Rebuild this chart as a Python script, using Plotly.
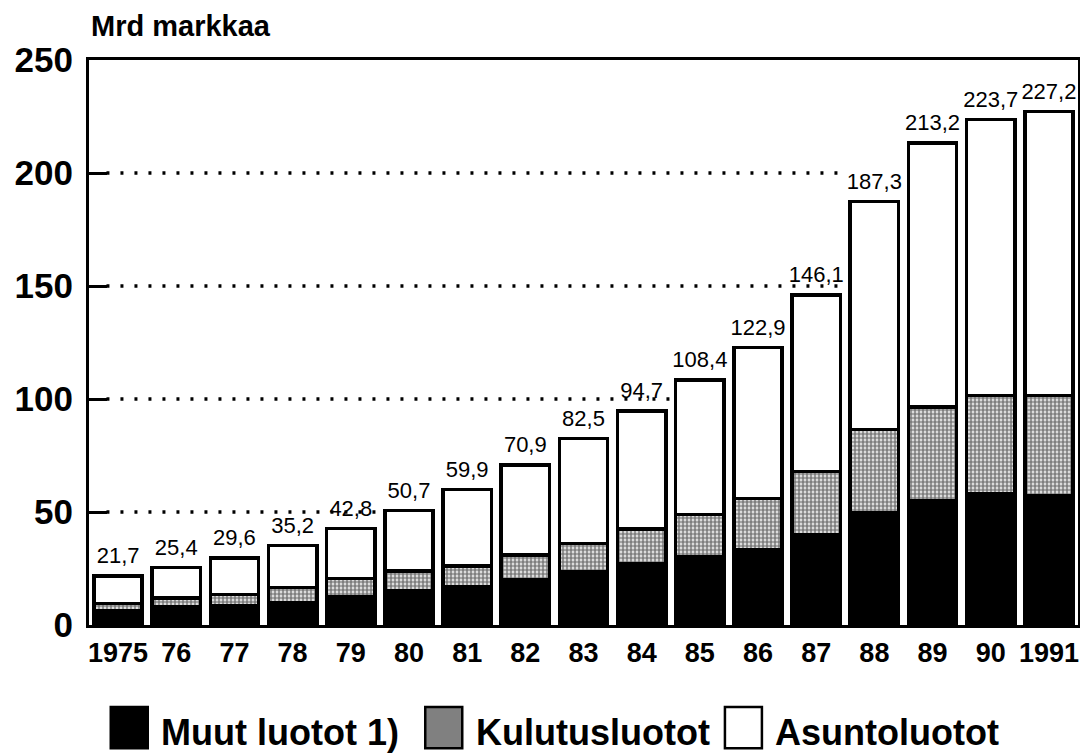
import plotly.graph_objects as go

# Data (Mrd markkaa)
years = ["1975", "76", "77", "78", "79", "80", "81", "82", "83",
         "84", "85", "86", "87", "88", "89", "90", "1991"]
muut = [6.5, 8.0, 8.5, 10.0, 12.5, 15.0, 17.0, 20.0, 23.5,
        27.0, 30.0, 33.5, 40.0, 49.5, 55.0, 58.0, 57.0]
kulutus = [3.0, 4.0, 5.0, 6.5, 8.0, 9.0, 9.0, 11.0, 12.5,
           15.5, 19.0, 22.5, 28.0, 37.0, 41.5, 43.5, 44.5]
asunto = [12.2, 13.4, 16.1, 18.7, 22.3, 26.7, 33.9, 39.9, 46.5,
          52.2, 59.4, 66.9, 78.1, 100.8, 116.7, 122.2, 125.7]
totals = [21.7, 25.4, 29.6, 35.2, 42.8, 50.7, 59.9, 70.9, 82.5,
          94.7, 108.4, 122.9, 146.1, 187.3, 213.2, 223.7, 227.2]
total_labels = [f"{v:.1f}".replace(".", ",") for v in totals]

# dotted guide lines: level -> bar where the line stops
grid_levels = [50, 100, 150, 200]
grid_stop = ["80", "85", "88", "88"]

FONT = "Liberation Sans, Arial, Helvetica, sans-serif"
outline = dict(color="black", width=3.5)

fig = go.Figure()

fig.add_trace(go.Bar(x=years, y=muut, name="Muut luotot 1)",
                     marker=dict(color="black", line=outline)))
fig.add_trace(go.Bar(x=years, y=kulutus, name="Kulutusluotot",
                     marker=dict(color="white", line=outline,
                                 pattern=dict(shape=".", fgcolor="black",
                                              bgcolor="white", size=4,
                                              solidity=0.7))))
fig.add_trace(go.Bar(x=years, y=asunto, name="Asuntoluotot",
                     marker=dict(color="white", line=outline)))

# total labels above bars (invisible marker pushes text up a bit)
fig.add_trace(go.Scatter(x=years, y=totals, mode="markers+text", text=total_labels,
                         textposition="top center",
                         marker=dict(size=10, opacity=0),
                         textfont=dict(family=FONT, size=22, color="black"),
                         showlegend=False, hoverinfo="skip"))

# dotted guide lines
for level, stop in zip(grid_levels, grid_stop):
    fig.add_shape(type="line", xref="x", yref="y",
                  x0=-0.2, x1=years.index(stop) - 0.45, y0=level, y1=level,
                  line=dict(color="black", width=3.5, dash="3px,11px"),
                  layer="below")

# manual legend (big swatches like the original)
legend_items = [
    ("Muut luotot 1)", "black", 0.022),
    ("Kulutusluotot", "#808080", 0.340),
    ("Asuntoluotot", "white", 0.643),
]
for label, fill, x0 in legend_items:
    fig.add_shape(type="rect", xref="paper", yref="paper",
                  x0=x0, x1=x0 + 0.0374, y0=-0.218, y1=-0.145,
                  fillcolor=fill, line=dict(color="black", width=2.5))
    fig.add_annotation(x=x0 + 0.049, y=-0.19, xref="paper", yref="paper",
                       text=f"<b>{label}</b>", showarrow=False,
                       xanchor="left", yanchor="middle",
                       font=dict(family=FONT, size=36, color="black"))

fig.add_annotation(x=0.0, y=1.0, xref="paper", yref="paper",
                   text="<b>Mrd markkaa</b>", showarrow=False,
                   xanchor="left", yanchor="bottom", yshift=16,
                   font=dict(family=FONT, size=29, color="black"))

# the page body adds an 8px margin, so the figure is 8px smaller
fig.update_layout(
    width=1080, height=745,
    margin=dict(l=81, r=10, t=52, b=128),
    paper_bgcolor="white", plot_bgcolor="white",
    barmode="stack", bargap=0.17,
    showlegend=False,
    font=dict(family=FONT, color="black"),
)
fig.update_xaxes(type="category", range=[-0.5, 16.5], automargin=False,
                 showline=True, linewidth=3, linecolor="black", mirror=True,
                 showgrid=False, ticks="", ticklabelstandoff=2,
                 tickfont=dict(family=FONT, size=27, color="black", weight="bold"))
fig.update_yaxes(range=[0, 250], tickvals=[0, 50, 100, 150, 200, 250],
                 automargin=False,
                 showline=True, linewidth=3, linecolor="black", mirror=True,
                 showgrid=False, zeroline=False,
                 ticks="inside", ticklen=18, tickwidth=3, tickcolor="black",
                 ticklabelstandoff=6,
                 tickfont=dict(family=FONT, size=35, color="black", weight="bold"))

fig.write_html("out.html")
